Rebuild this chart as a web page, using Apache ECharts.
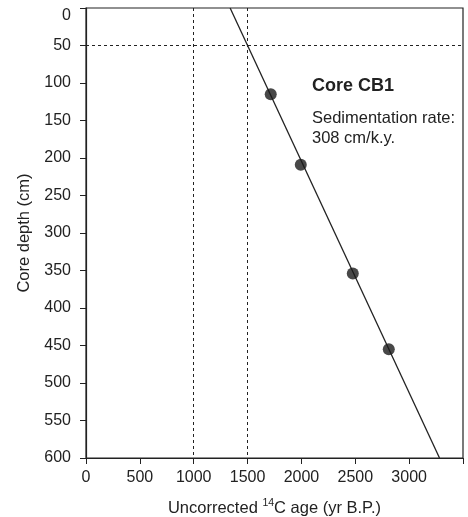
<!DOCTYPE html>
<html>
<head>
<meta charset="utf-8">
<script src="https://cdn.jsdelivr.net/npm/echarts@6/dist/echarts.min.js"></script>
<style>
  html, body { margin: 0; padding: 0; background: #fff; }
  #chart { width: 468px; height: 517px; }
</style>
</head>
<body>
<div id="chart"></div>
<script>
// dated samples: uncorrected 14C age (yr B.P.) vs core depth (cm)
var ages = [1715, 1994, 2477, 2811];
var depths = [115, 209, 354, 455];
// fitted sedimentation line, end points
var lineAges = [1338, 3282];
var lineDepths = [0, 600];
// dashed reference lines
var refAges = [1000, 1500];
var refDepth = 50;
var xTicks = [0, 500, 1000, 1500, 2000, 2500, 3000];

var ink = "#222";
var font = "Liberation Sans, Arial, Helvetica, sans-serif";

var pts = ages.map(function (a, i) { return [a, depths[i]]; });
var fit = lineAges.map(function (a, i) { return [a, lineDepths[i]]; });

var markData = refAges.map(function (a) { return { xAxis: a }; });
markData.push({ yAxis: refDepth });

var myChart = echarts.init(document.getElementById("chart"));
myChart.setOption({
  animation: false,
  grid: {
    left: 86,
    right: 5,
    top: 8,
    bottom: 59,
    containLabel: false,
    outerBoundsMode: "none",
    show: true,
    borderColor: ink,
    borderWidth: 1.2
  },
  xAxis: {
    type: "value",
    min: 0,
    max: 3500,
    interval: 500,
    name: "{a|Uncorrected }{sup|14}{a|C age (yr B.P.)}",
    nameLocation: "middle",
    nameGap: 40,
    nameTextStyle: {
      rich: {
        a: { fontSize: 16.5, color: ink, fontFamily: font },
        sup: { fontSize: 10.5, color: ink, fontFamily: font, padding: [0, 0, 9, 0] }
      }
    },
    axisLine: { onZero: false, lineStyle: { color: ink, width: 1.2 } },
    axisTick: { length: 6, lineStyle: { color: ink } },
    axisLabel: {
      color: ink,
      fontSize: 16,
      fontFamily: font,
      margin: 12,
      formatter: function (v) { return xTicks.indexOf(v) >= 0 ? String(v) : ""; }
    },
    splitLine: { show: false }
  },
  yAxis: {
    type: "value",
    inverse: true,
    min: 0,
    max: 600,
    interval: 50,
    name: "Core depth (cm)",
    nameLocation: "middle",
    nameGap: 50,
    nameTextStyle: { color: ink, fontSize: 16.5, fontFamily: font },
    axisLine: { onZero: false, lineStyle: { color: ink, width: 1.2 } },
    axisTick: { length: 6, lineStyle: { color: ink } },
    axisLabel: {
      color: ink,
      fontSize: 16,
      fontFamily: font,
      margin: 15,
      verticalAlignMinLabel: "top"
    },
    splitLine: { show: false }
  },
  series: [
    {
      type: "line",
      data: fit,
      symbol: "none",
      lineStyle: { color: ink, width: 1.3 },
      z: 3,
      markLine: {
        silent: true,
        symbol: "none",
        label: { show: false },
        lineStyle: { color: ink, width: 1, type: [3, 3] },
        data: markData
      }
    },
    {
      type: "scatter",
      data: pts,
      symbolSize: 12,
      itemStyle: { color: "#1a1a1a" },
      z: 4
    }
  ],
  graphic: [
    {
      type: "text",
      left: 312,
      top: 77,
      style: { text: "Core CB1", fill: ink, font: "bold 18px " + font }
    },
    {
      type: "text",
      left: 312,
      top: 109,
      style: {
        text: "Sedimentation rate:\n308 cm/k.y.",
        fill: ink,
        font: "16.5px " + font,
        lineHeight: 19.5
      }
    }
  ]
});
</script>
</body>
</html>
